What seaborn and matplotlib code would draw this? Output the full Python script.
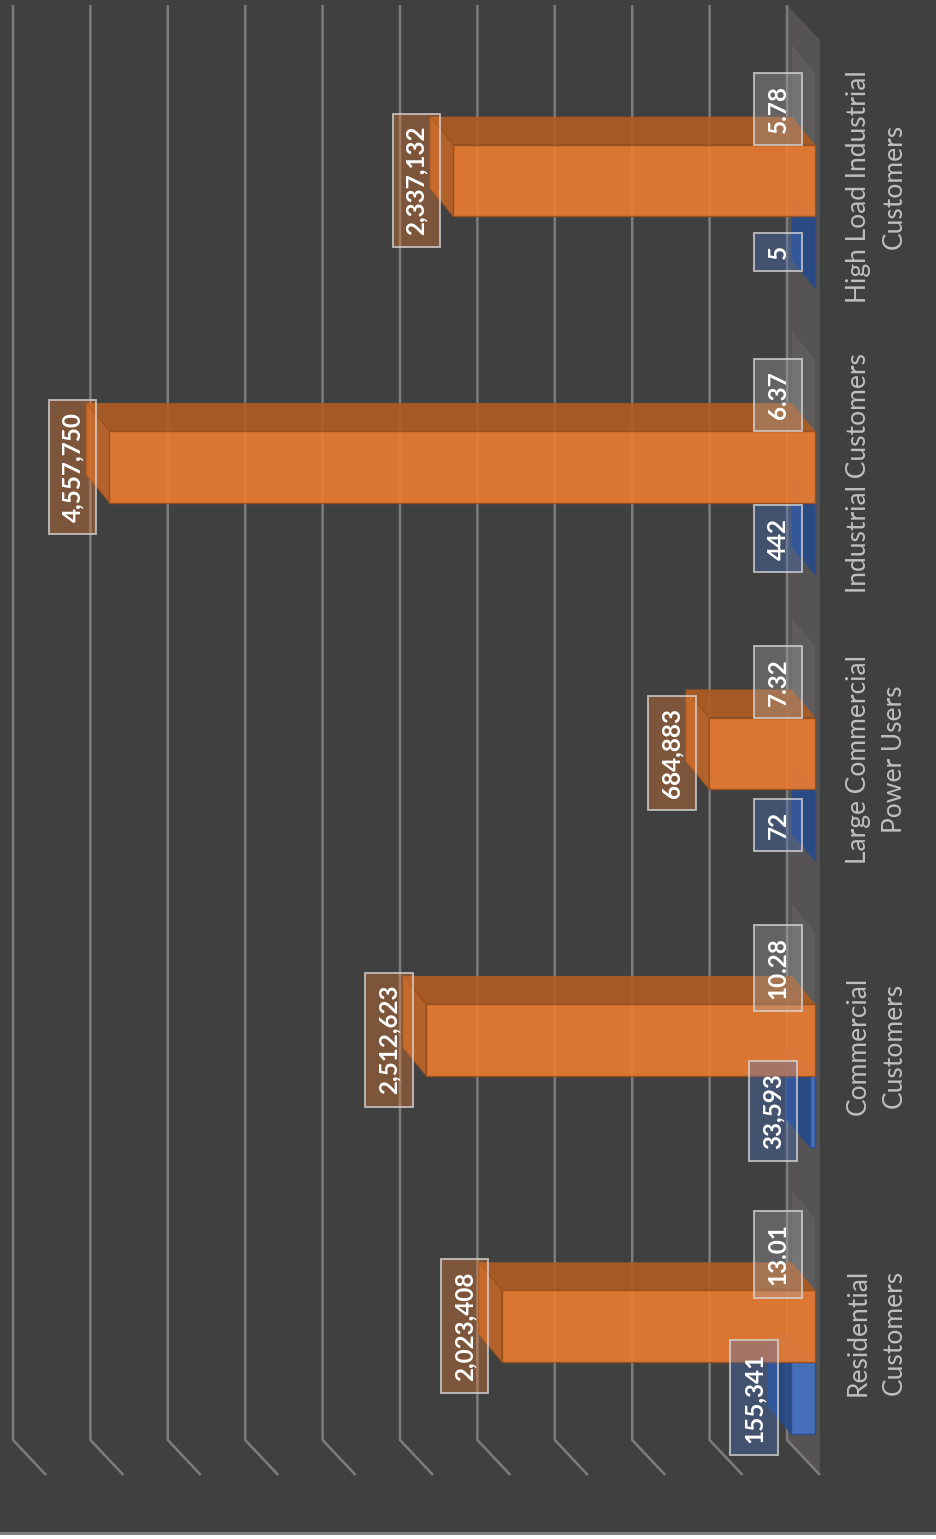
import matplotlib
matplotlib.use("Agg")
import numpy as np
import pandas as pd
import seaborn as sns
import matplotlib.pyplot as plt
from matplotlib.patches import Polygon, Rectangle

# ---- data -------------------------------------------------------------
categories = ["High Load Industrial\nCustomers", "Industrial Customers",
              "Large Commercial\nPower Users", "Commercial\nCustomers",
              "Residential\nCustomers"]
customers = [5, 442, 72, 33593, 155341]
consumption = [2337132, 4557750, 684883, 2512623, 2023408]
avg_price = [5.78, 6.37, 7.32, 10.28, 13.01]

series_names = ["Average Price", "Consumption", "Customers"]
series_values = [avg_price, consumption, customers]
tick_values = np.arange(0, 5_000_001, 500_000)

# ---- style ------------------------------------------------------------
BG = "#404040"
series_colors = ["#a5a5a5", "#ed7d31", "#4472c4"]
side_colors = ["#a5a5a5", "#b15d23", "#2f5597"]
end_colors = ["#a5a5a5", "#c0662a", "#264a8a"]
face_alpha = [0.12, 0.9, 0.9]
edge_colors = ["none", "#9c4f1a", "#2a4d8c"]
label_formats = ["{:.2f}", "{:,.0f}", "{:,.0f}"]
series_z = [7, 5, 3]

W, H, DPI = 937, 1539, 100
PX_PER_VALUE = 154.8e-6      # pixels per unit of value
ZERO_PX = 815                # front plane zero
CAT0_PX = 180.5
PX_PER_CAT = 286.4
DEPTH_X, DEPTH_Y = 23, 28    # bar depth (pixels)
WALL_X = 28                  # back wall shift (pixels)

sns.set_style("dark")
plt.rcParams["font.family"] = ["Lato", "DejaVu Sans"]

df = pd.DataFrame({
    "category": categories * len(series_names),
    "series": np.repeat(series_names, len(categories)),
    "value": np.concatenate([np.asarray(v, float) for v in series_values]),
})

fig = plt.figure(figsize=(W / DPI, H / DPI), dpi=DPI, facecolor=BG)
ax = fig.add_axes([0, 0, 1, 1])
sns.barplot(data=df, x="value", y="category", hue="series",
            order=categories, hue_order=series_names, palette=series_colors,
            orient="h", width=0.75, dodge=True, saturation=1,
            errorbar=None, legend=False, ax=ax)

ax.set_xlim(ZERO_PX / PX_PER_VALUE, (ZERO_PX - W) / PX_PER_VALUE)
ax.set_ylim((H - CAT0_PX) / PX_PER_CAT, -CAT0_PX / PX_PER_CAT)
ax.axis("off")


def dx(px):
    return px / PX_PER_VALUE


def ypos(py):
    return (py - CAT0_PX) / PX_PER_CAT


def dy(py):
    return py / PX_PER_CAT


# floor strip
ax.add_patch(Polygon([(dx(WALL_X), ypos(5)), (dx(-5), ypos(40)),
                      (dx(-5), ypos(1475)), (dx(WALL_X), ypos(1440))],
                     closed=True, fc="#555353", ec="none", zorder=0.5))

# back wall gridlines with floor return
for t in tick_values:
    xb = t + dx(WALL_X)
    ax.plot([xb, xb, xb - dx(33)], [ypos(5), ypos(1440), ypos(1475)],
            color="#7c7c7c", lw=1.8, zorder=1, solid_capstyle="butt")

# 3D bars
for k, cont in enumerate(ax.containers):
    z = series_z[k]
    for rect in cont:
        v = rect.get_width()
        y0 = rect.get_y()
        h = rect.get_height()
        bx, by = dx(DEPTH_X), -dy(DEPTH_Y)
        side = Polygon([(0, y0), (v, y0), (v + bx, y0 + by), (bx, y0 + by)],
                       closed=True, fc=side_colors[k], alpha=face_alpha[k],
                       ec="none", zorder=z)
        end = Polygon([(v, y0), (v, y0 + h), (v + bx, y0 + h + by),
                       (v + bx, y0 + by)],
                      closed=True, fc=end_colors[k], alpha=face_alpha[k],
                      ec=edge_colors[k], lw=0.8, zorder=z)
        ax.add_patch(side)
        ax.add_patch(end)
        rect.set_zorder(z + 0.5)
        rect.set_alpha(face_alpha[k])
        rect.set_edgecolor(edge_colors[k])
        rect.set_linewidth(1.0)

        ax.annotate(label_formats[k].format(v), xy=(v, y0 + h / 2),
                    xytext=(-26.6, 0), textcoords="offset points",
                    rotation=90, ha="center", va="center", color="white",
                    fontsize=17.5, fontweight="bold", zorder=12,
                    bbox=dict(boxstyle="square,pad=0.5",
                              fc=matplotlib.colors.to_rgba(series_colors[k], 0.35),
                              ec=(0.85, 0.85, 0.85, 0.75), lw=1.4))

# category labels
for i, cat in enumerate(categories):
    ax.text(ZERO_PX / PX_PER_VALUE - dx(846), i + dy(6), cat, rotation=90,
            ha="left", va="center", multialignment="center",
            linespacing=1.55, color="#bfbfbf", fontsize=19, zorder=12)

# frame strip along the bottom edge
fig.patches.append(Rectangle((0, 0), 1, 4 / H, transform=fig.transFigure,
                             fc="white", ec="none", zorder=20))
fig.patches.append(Rectangle((0, 4 / H), 1, 3 / H, transform=fig.transFigure,
                             fc="#7f7f7f", ec="none", zorder=20))

fig.savefig("out.png", dpi=DPI, facecolor=BG)
